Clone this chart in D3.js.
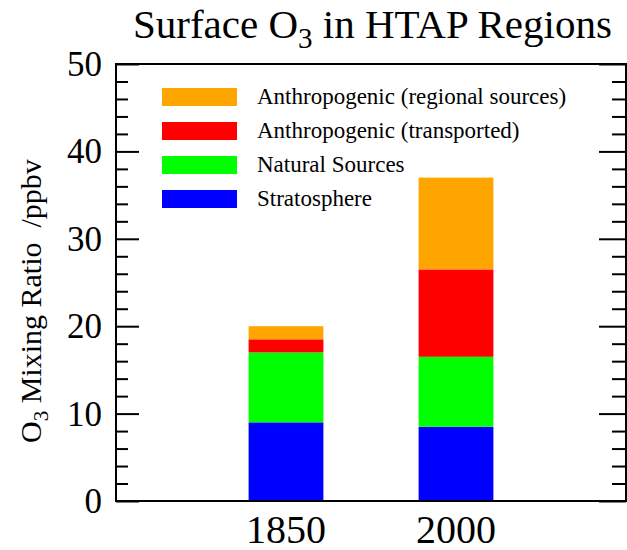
<!DOCTYPE html>
<html>
<head>
<meta charset="utf-8">
<script src="https://cdn.jsdelivr.net/npm/d3@7"></script>
<style>
  html, body { margin: 0; padding: 0; background: #fff; }
  svg { display: block; font-family: "Liberation Serif", "Times New Roman", serif; }
</style>
</head>
<body>
<svg id="chart" width="627" height="550"></svg>
<script>
// Surface ozone contributions by source, stacked per year
const years = [1850, 2000];
const sources = ["Stratosphere", "Natural Sources", "Anthropogenic (transported)", "Anthropogenic (regional sources)"];
const stratosphere = [9.0, 8.5];
const natural = [8.0, 8.0];
const transported = [1.5, 10.0];
const regional = [1.5, 10.5];
const colors = ["#0000ff", "#00ff00", "#ff0000", "#ffa500"];
const yTicks = [0, 10, 20, 30, 40, 50];

const rows = years.map((yr, i) => ({
  year: yr,
  "Stratosphere": stratosphere[i],
  "Natural Sources": natural[i],
  "Anthropogenic (transported)": transported[i],
  "Anthropogenic (regional sources)": regional[i]
}));

const svg = d3.select("#chart");
const plotL = 116, plotR = 626, plotT = 64, plotB = 501;

const x = d3.scaleLinear().domain([1700, 2150]).range([plotL, plotR]);
const y = d3.scaleLinear().domain([0, 50]).range([plotB, plotT]);
const color = d3.scaleOrdinal().domain(sources).range(colors);
const barHalf = 33; // half bar width in years

const stack = d3.stack().keys(sources)(rows);

svg.append("g")
  .selectAll("g")
  .data(stack)
  .join("g")
  .attr("fill", d => color(d.key))
  .selectAll("rect")
  .data(d => d)
  .join("rect")
  .attr("x", d => x(d.data.year - barHalf))
  .attr("width", d => x(d.data.year + barHalf) - x(d.data.year - barHalf))
  .attr("y", d => y(d[1]))
  .attr("height", d => y(d[0]) - y(d[1]));

// Frame
svg.append("rect")
  .attr("x", plotL).attr("y", plotT)
  .attr("width", plotR - plotL).attr("height", plotB - plotT)
  .attr("fill", "none").attr("stroke", "#000").attr("stroke-width", 2);

// Inward ticks on left and right
const minor = d3.range(0, 51, 2).filter(v => v % 10 !== 0);
const leftAxis = d3.axisRight(y).tickValues(yTicks).tickSize(23).tickFormat("");
const leftMinor = d3.axisRight(y).tickValues(minor).tickSize(12).tickFormat("");
const rightAxis = d3.axisLeft(y).tickValues(yTicks).tickSize(27).tickFormat("");
const rightMinor = d3.axisLeft(y).tickValues(minor).tickSize(14).tickFormat("");
[[leftAxis, plotL], [leftMinor, plotL], [rightAxis, plotR], [rightMinor, plotR]].forEach(([ax, px]) => {
  const g = svg.append("g").attr("transform", `translate(${px},0)`).call(ax);
  g.select(".domain").remove();
  g.selectAll("line").attr("stroke", "#000").attr("stroke-width", 2);
});

// Y tick labels
svg.append("g")
  .selectAll("text")
  .data(yTicks)
  .join("text")
  .attr("x", 102)
  .attr("y", d => y(d) + 12)
  .attr("text-anchor", "end")
  .attr("font-size", 35)
  .text(d => d);

// X labels
svg.append("g")
  .selectAll("text")
  .data(years)
  .join("text")
  .attr("x", d => x(d))
  .attr("y", 543)
  .attr("text-anchor", "middle")
  .attr("font-size", 40)
  .text(d => d);

// Title
const title = svg.append("text")
  .attr("x", 133).attr("y", 38)
  .attr("font-size", 41);
title.append("tspan").text("Surface O");
title.append("tspan").attr("font-size", 29).attr("dy", 10).text("3");
title.append("tspan").attr("dy", -10).text(" in HTAP Regions");

// Y axis label
const ylab = svg.append("text")
  .attr("transform", "translate(41,443) rotate(-90)")
  .attr("font-size", 30);
ylab.append("tspan").text("O");
ylab.append("tspan").attr("font-size", 21).attr("dy", 7).text("3");
ylab.append("tspan").attr("dy", -7).attr("xml:space", "preserve").text(" Mixing Ratio  /ppbv");

// Legend, top entry is the top of the stack
const legendOrder = sources.slice().reverse();
const lg = svg.append("g")
  .selectAll("g")
  .data(legendOrder)
  .join("g")
  .attr("transform", (d, i) => `translate(162,${88 + i * 34})`);
lg.append("rect")
  .attr("width", 75).attr("height", 18)
  .attr("fill", d => color(d));
lg.append("text")
  .attr("x", 95).attr("y", 16)
  .attr("font-size", 23)
  .text(d => d);
</script>
</body>
</html>
